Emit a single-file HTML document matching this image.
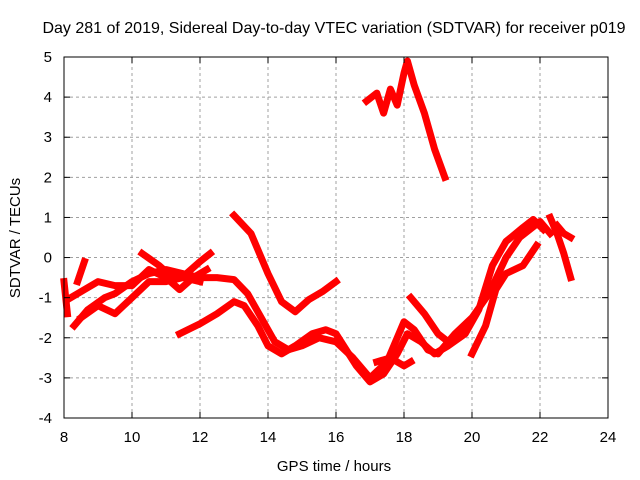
<!DOCTYPE html>
<html><head><meta charset="utf-8"><style>
body{margin:0;background:#fff}
svg{display:block;font-family:"Liberation Sans",sans-serif}
</style></head><body>
<svg id="chart" width="640" height="480" viewBox="0 0 640 480">
<text x="334" y="33" font-size="16" text-anchor="middle">Day 281 of 2019, Sidereal Day-to-day VTEC variation (SDTVAR) for receiver p019</text>
<text x="334" y="471" font-size="15" text-anchor="middle">GPS time / hours</text>
<text transform="translate(20,238) rotate(-90)" font-size="15" text-anchor="middle">SDTVAR / TECUs</text>
<g id="grid"></g><g id="series"></g><g id="axes"></g>
</svg>
<script>
const xTicks=[8,10,12,14,16,18,20,22,24];
const yTicks=[-4,-3,-2,-1,0,1,2,3,4,5];
const trackA=[[13.0,1.05],[13.5,0.6],[14.0,-0.4],[14.4,-1.1],[14.8,-1.35],[15.2,-1.05],[15.6,-0.85],[16.0,-0.6]];
const trackB=[[11.4,-1.9],[12.0,-1.65],[12.5,-1.4],[13.0,-1.1],[13.3,-1.2],[13.7,-1.7],[14.0,-2.2],[14.4,-2.4],[14.8,-2.2],[15.3,-1.9],[15.7,-1.8],[16.0,-1.9],[16.3,-2.3],[16.6,-2.7],[17.0,-3.1],[17.4,-2.9],[17.8,-2.4],[18.1,-1.9],[18.5,-2.1],[18.9,-2.4],[19.3,-2.2],[19.8,-1.9],[20.2,-1.3],[20.6,-0.2],[21.0,0.4],[21.5,0.75],[21.8,0.95],[22.1,0.7]];
const trackC=[[8.3,-1.7],[8.7,-1.3],[9.2,-1.0],[9.5,-0.9],[10.0,-0.6],[10.5,-0.4],[11.0,-0.3],[11.5,-0.4],[12.0,-0.5],[12.5,-0.5],[13.0,-0.55],[13.4,-0.9],[13.8,-1.5],[14.2,-2.1],[14.6,-2.3],[15.0,-2.2],[15.5,-2.0],[16.0,-2.1],[16.5,-2.5],[17.0,-3.0],[17.5,-2.6],[18.0,-1.6],[18.3,-1.8],[18.7,-2.3],[19.0,-2.4],[19.5,-1.9],[20.0,-1.5],[20.5,-0.9],[21.0,0.0],[21.4,0.5],[22.0,0.9],[22.3,0.6]];
const trackD=[[8.5,-1.5],[9.0,-1.2],[9.5,-1.4],[10.0,-1.0],[10.5,-0.6],[11.0,-0.6],[11.5,-0.5],[12.0,-0.6]];
const trackE=[[8.2,-1.0],[8.6,-0.8],[9.0,-0.6],[9.5,-0.7],[10.0,-0.7],[10.5,-0.3],[11.0,-0.5],[11.4,-0.8],[11.8,-0.5],[12.2,-0.3]];
const trackE2=[[10.3,0.1],[10.8,-0.2],[11.2,-0.5],[11.6,-0.4],[12.0,-0.1],[12.3,0.1]];
const trackS1=[[8.0,-0.6],[8.1,-1.4]];
const trackS2=[[8.4,-0.6],[8.6,-0.1]];
const trackF=[[20.0,-2.4],[20.4,-1.7],[20.7,-0.8],[21.0,-0.4],[21.5,-0.2],[21.9,0.3]];
const trackG=[[18.2,-1.0],[18.6,-1.4],[19.0,-1.9],[19.3,-2.1],[19.7,-1.9]];
const trackG2=[[17.2,-2.6],[17.6,-2.5],[18.0,-2.7],[18.2,-2.6]];
const trackH=[[16.9,3.9],[17.2,4.1],[17.4,3.6],[17.6,4.2],[17.8,3.8],[18.0,4.6],[18.1,4.9],[18.3,4.3],[18.6,3.6],[18.9,2.7],[19.2,2.0]];
const trackI=[[22.3,1.0],[22.5,0.6],[22.7,0.1],[22.9,-0.5]];
const trackI2=[[22.5,0.8],[22.7,0.6],[22.9,0.5]];
const allTracks=[trackA,trackB,trackC,trackD,trackE,trackE2,trackS1,trackS2,trackF,trackG,trackG2,trackH,trackI,trackI2];

const X0=64,X1=608,Y0=418,Y1=57;
const xs=v=>X0+(v-8)/(24-8)*(X1-X0);
const ys=v=>Y0-(v+4)/(5+4)*(Y0-Y1);
const NS="http://www.w3.org/2000/svg";
const mk=(t,a,p)=>{const e=document.createElementNS(NS,t);for(const k in a)e.setAttribute(k,a[k]);p.appendChild(e);return e;};
const grid=document.getElementById('grid'),axes=document.getElementById('axes'),ser=document.getElementById('series');
xTicks.forEach(t=>{
  const x=xs(t);
  if(t>8&&t<24){const g=mk('line',{x1:x,x2:x,y1:Y0,y2:Y1,stroke:'#a0a0a0','stroke-dasharray':'3,3'},grid);
  
  }
  const l=mk('text',{x:x,y:Y0+24,'font-size':15,'text-anchor':'middle'},axes);l.textContent=t;
  
  
  mk('line',{x1:x,x2:x,y1:Y0,y2:Y0-6,stroke:'#000'},axes);
  mk('line',{x1:x,x2:x,y1:Y1,y2:Y1+6,stroke:'#000'},axes);
});
yTicks.forEach(t=>{
  const y=ys(t);
  if(t>-4&&t<5){const g=mk('line',{x1:X0,x2:X1,y1:y,y2:y,stroke:'#a0a0a0','stroke-dasharray':'3,3'},grid);
  
  }
  const l=mk('text',{x:X0-12,y:y+5,'font-size':15,'text-anchor':'end'},axes);l.textContent=t;
  
  
  mk('line',{x1:X0,x2:X0+6,y1:y,y2:y,stroke:'#000'},axes);
  mk('line',{x1:X1,x2:X1-6,y1:y,y2:y,stroke:'#000'},axes);
});
const fr=mk('rect',{x:X0,y:Y1,width:X1-X0,height:Y0-Y1,fill:'none',stroke:'#000'},axes);


allTracks.forEach(tr=>{
  const p=mk('polyline',{points:tr.map(d=>xs(d[0])+','+ys(d[1])).join(' '),fill:'none',stroke:'#ff0000','stroke-width':7,'stroke-linejoin':'round','stroke-linecap':'square'},ser);
  
  
});
</script>
</body></html>
